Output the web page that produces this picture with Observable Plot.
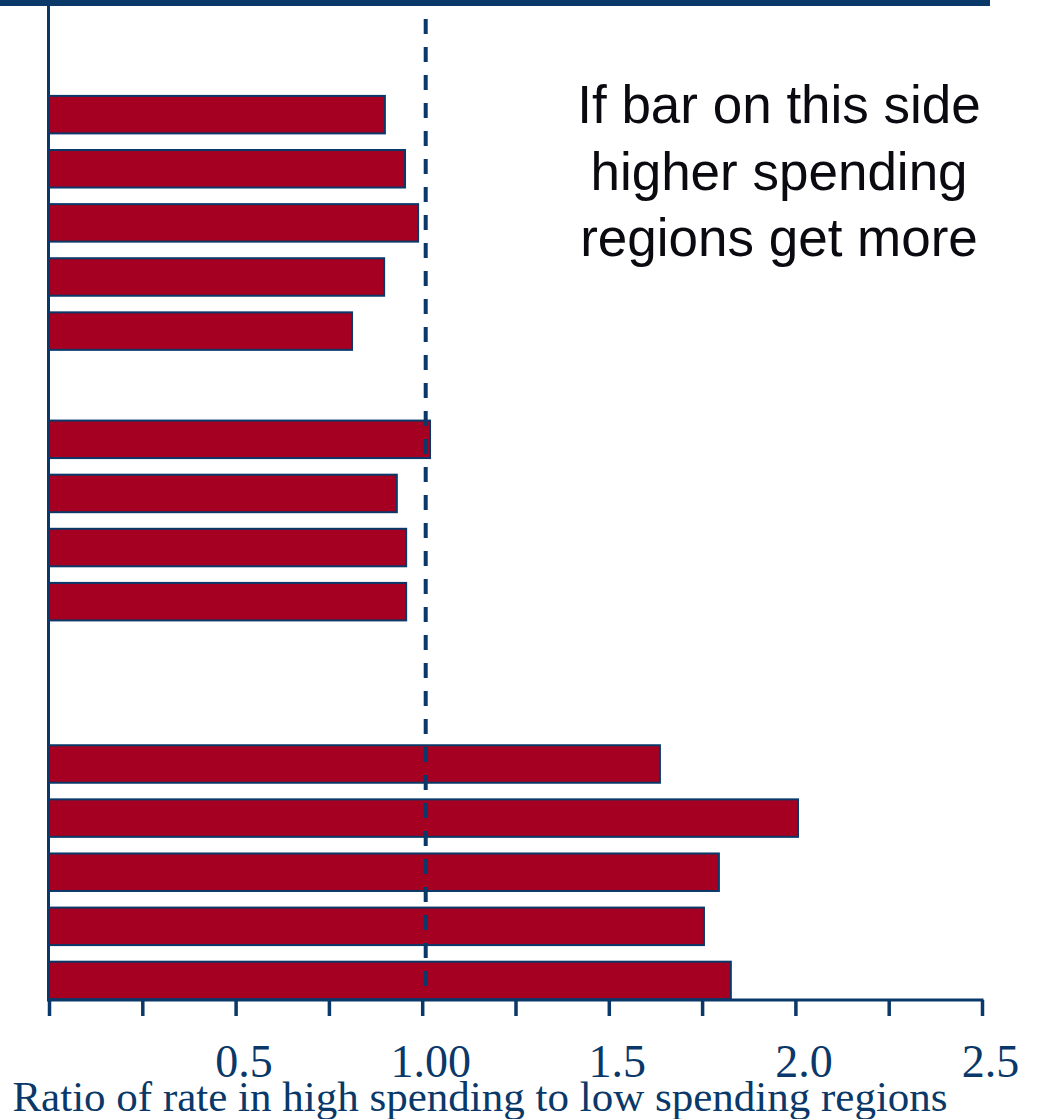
<!DOCTYPE html>
<html><head><meta charset="utf-8">
<script src="https://cdn.jsdelivr.net/npm/d3@7"></script>
<script src="https://cdn.jsdelivr.net/npm/@observablehq/plot@0.6"></script>
<style>
html,body{margin:0;padding:0;background:#fff;}
#wrap{position:relative;width:1039px;height:1119px;overflow:hidden;}
#topbar{position:absolute;left:0;top:0;width:990px;height:6px;background:#0A3868;}
#chart svg{display:block;}
</style></head><body>
<div id="wrap"><div id="chart"></div><div id="topbar"></div></div>
<script>
// ---- data ----
const categories = ["A1","A2","A3","A4","A5","B1","B2","B3","B4","C1","C2","C3","C4","C5"];
const values = [0.900,0.954,0.989,0.898,0.812,1.021,0.932,0.957,0.957,1.637,2.007,1.795,1.755,1.827];
// band slots, with empty slots separating the three groups
const slots = ["A1","A2","A3","A4","A5","gap1","B1","B2","B3","B4","gap2","gap3","C1","C2","C3","C4","C5"];
const tickValues = [0,0.25,0.5,0.75,1,1.25,1.5,1.75,2,2.25,2.5];
const labelValues = [0.5,1,1.5,2,2.5];
const tickLabels = ["0.5","1.00","1.5","2.0","2.5"];
const referenceValue = 1;
const xDomain = [0, 2.5];
const annotation = "If bar on this side\nhigher spending\nregions get more";
const xLabel = "Ratio of rate in high spending to low spending regions";

// ---- styles ----
const navy = "#0A3868";
const barFill = "#A50021";
const rows = categories.map((c, i) => ({slot: c, value: values[i]}));
const labelMap = new Map(labelValues.map((v, i) => [v, tickLabels[i]]));

const W = 1039, H = 1119, mL = 49, mR = 57, mT = 6, mB = 119;

const chart = Plot.plot({
  width: W,
  height: H,
  marginLeft: mL,
  marginRight: mR,
  marginTop: mT,
  marginBottom: mB,
  style: {background: "white", overflow: "visible"},
  x: {domain: xDomain, label: null},
  y: {type: "band", domain: slots, range: [87.6, 1007.5], paddingInner: 0.307, paddingOuter: 0.1535, round: false, axis: null},
  marks: [
    Plot.barX(rows, {y: "slot", x1: 0, x2: "value", fill: barFill, stroke: navy, strokeWidth: 2}),
    Plot.ruleX([referenceValue], {stroke: navy, strokeWidth: 4, strokeDasharray: "15,13", strokeDashoffset: 15, dx: 3}),
    Plot.ruleX([0], {stroke: navy, strokeWidth: 3, dx: -1}),
    (index, scales, vals, dims) => d3.create("svg:line")
        .attr("x1", scales.x(xDomain[0]) - 2)
        .attr("x2", scales.x(xDomain[1]) + 1.5)
        .attr("y1", dims.height - dims.marginBottom)
        .attr("y2", dims.height - dims.marginBottom)
        .attr("stroke", navy)
        .attr("stroke-width", 3)
        .node(),
    Plot.axisX({ticks: tickValues, tickSize: 16, tickFormat: () => "", stroke: navy, strokeWidth: 3.5, label: null}),
    Plot.axisX({ticks: labelValues, tickSize: 0, tickPadding: 43.5, tickFormat: d => labelMap.get(d), fill: navy, fontSize: 46, fontFamily: "Liberation Serif, Times New Roman, serif", dx: 8, label: null}),
    Plot.text([xLabel], {frameAnchor: "bottom", lineAnchor: "bottom", dy: 110, dx: -36, fontSize: 43, fontFamily: "Liberation Serif, Times New Roman, serif", fill: navy}),
    Plot.text([annotation], {frameAnchor: "top", lineAnchor: "top", dy: 69.4, dx: 263, fontSize: 53, lineHeight: 1.255, fontFamily: "Liberation Sans, Arial, sans-serif", fill: "#0a0a10", textAnchor: "middle"})
  ]
});
document.getElementById("chart").appendChild(chart);
</script>
</body></html>
